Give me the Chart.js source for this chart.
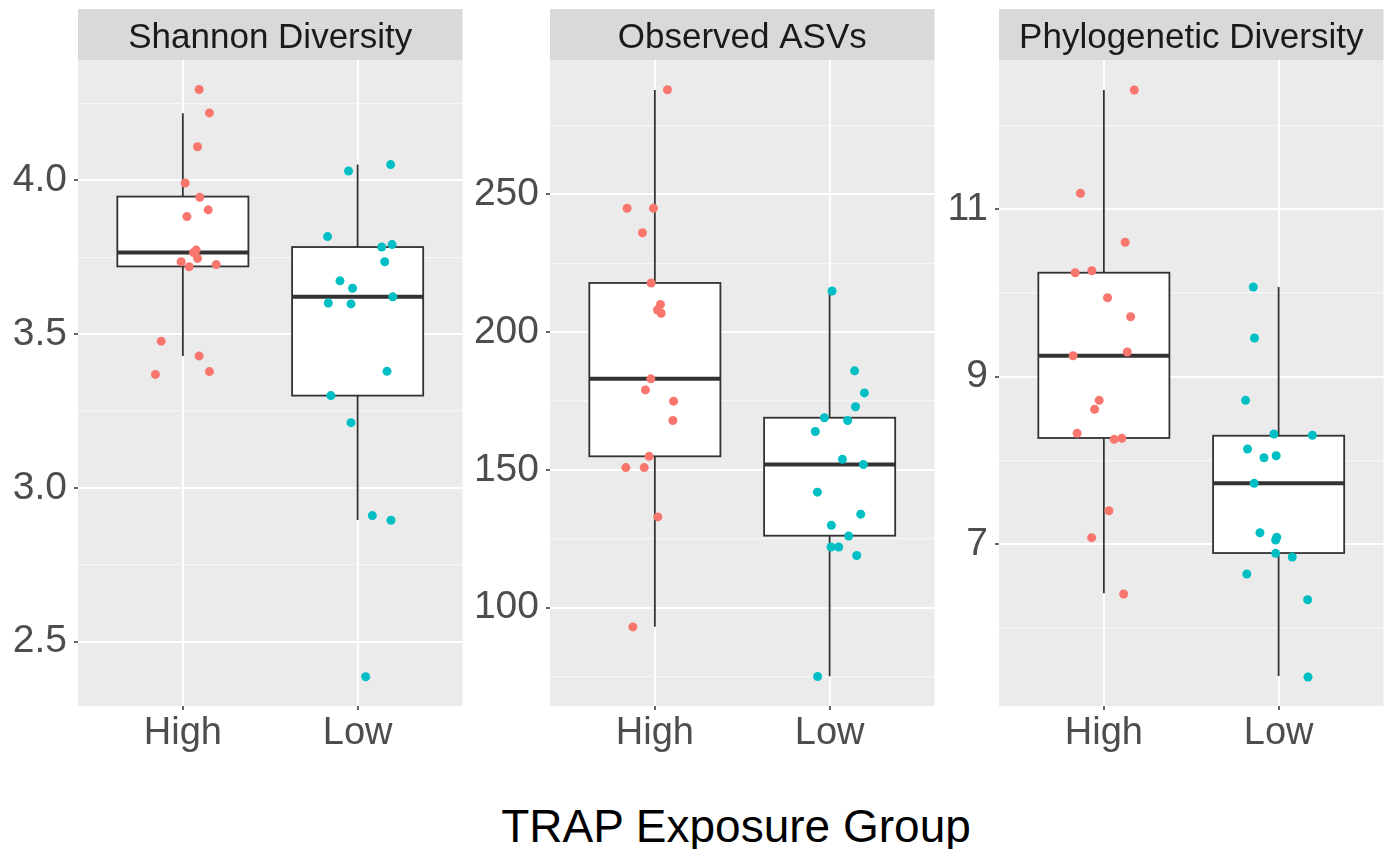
<!DOCTYPE html>
<html>
<head>
<meta charset="utf-8">
<script src="https://cdn.jsdelivr.net/npm/chart.js@4.4.1/dist/chart.umd.min.js"></script>
<style>
  body { margin: 0; background: #fff; width: 1386px; height: 849px; position: relative; overflow: hidden; }
  canvas { position: absolute; top: 0; }
  #xtitle {
    position: absolute; left: 736px; top: 803px; transform: translateX(-50%);
    font: 46px "Liberation Sans", Arial, sans-serif; line-height: 46px; color: #000; white-space: nowrap;
  }
</style>
</head>
<body>
<canvas id="p1" width="467" height="780" style="left:0px"></canvas>
<canvas id="p2" width="477" height="780" style="left:462px"></canvas>
<canvas id="p3" width="454" height="780" style="left:934px"></canvas>
<div id="xtitle">TRAP Exposure Group</div>
<script>
// categories
const groups = ['High', 'Low'];
const groupPos = [1, 2];

// Shannon Diversity
const shannonHighY = [4.295, 4.219, 4.109, 3.991, 3.945, 3.904, 3.882, 3.773, 3.765, 3.746, 3.735, 3.719, 3.726, 3.477, 3.429, 3.369, 3.378];
const shannonHighX = [1.093, 1.152, 1.084, 1.013, 1.097, 1.145, 1.023, 1.076, 1.061, 1.084, 0.990, 1.036, 1.191, 0.876, 1.093, 0.843, 1.152];
const shannonLowY = [4.030, 4.051, 3.817, 3.783, 3.791, 3.735, 3.673, 3.649, 3.621, 3.601, 3.598, 3.379, 3.300, 3.212, 2.910, 2.895, 2.386];
const shannonLowX = [1.948, 2.189, 1.828, 2.138, 2.197, 2.155, 1.899, 1.971, 2.201, 1.832, 1.962, 2.168, 1.847, 1.962, 2.084, 2.191, 2.046];
// [lower whisker, q1, median, q3, upper whisker]
const shannonHighBox = [3.429, 3.720, 3.765, 3.947, 4.218];
const shannonLowBox = [2.896, 3.300, 3.621, 3.783, 4.051];
const shannonTicks = [2.5, 2.75, 3.0, 3.25, 3.5, 3.75, 4.0, 4.25];
const shannonMajor = [2.5, 3.0, 3.5, 4.0];

// Observed ASVs
const asvHighY = [287.9, 244.9, 244.9, 236.0, 217.8, 210.0, 208.0, 206.8, 183.0, 179.0, 174.9, 167.9, 154.9, 150.8, 150.8, 132.9, 93.0];
const asvHighX = [1.072, 0.841, 0.992, 0.929, 0.979, 1.032, 1.015, 1.036, 0.977, 0.946, 1.107, 1.103, 0.967, 0.834, 0.939, 1.017, 0.874];
const asvLowY = [214.9, 185.9, 177.9, 172.9, 168.9, 167.9, 163.9, 153.8, 151.9, 141.9, 133.9, 129.9, 126.0, 122.0, 122.0, 118.9, 75.0];
const asvLowX = [2.014, 2.143, 2.199, 2.148, 1.970, 2.103, 1.918, 2.073, 2.193, 1.930, 2.178, 2.010, 2.109, 2.008, 2.052, 2.155, 1.931];
const asvHighBox = [93.1, 154.9, 183.0, 217.8, 287.8];
const asvLowBox = [75.1, 126.1, 151.9, 168.9, 214.9];
const asvTicks = [75, 100, 125, 150, 175, 200, 225, 250, 275];
const asvMajor = [100, 150, 200, 250];

// Phylogenetic Diversity
const pdHighY = [12.426, 11.191, 10.606, 10.242, 10.266, 9.943, 9.716, 9.250, 9.294, 8.717, 8.610, 8.323, 8.251, 8.263, 7.398, 7.076, 6.402];
const pdHighX = [1.174, 0.866, 1.122, 0.836, 0.931, 1.021, 1.153, 0.824, 1.134, 0.973, 0.947, 0.847, 1.059, 1.103, 1.029, 0.930, 1.113];
const pdLowY = [10.071, 9.462, 8.717, 8.314, 8.299, 8.135, 8.031, 8.055, 7.725, 7.135, 7.080, 7.048, 6.888, 6.844, 6.641, 6.334, 5.410];
const pdLowX = [1.855, 1.862, 1.811, 1.973, 2.193, 1.822, 1.916, 1.986, 1.860, 1.893, 1.989, 1.983, 1.983, 2.078, 1.818, 2.166, 2.168];
const pdHighBox = [6.410, 8.267, 9.250, 10.242, 12.426];
const pdLowBox = [5.422, 6.892, 7.725, 8.294, 10.071];
const pdTicks = [6, 7, 8, 9, 10, 11, 12];
const pdMajor = [7, 9, 11];

const RED = '#F8766D';
const CYAN = '#00BFC4';
const FONT = '"Liberation Sans", Arial, sans-serif';

function makePanel(id, p) {
  // panel background, strip, and boxplots drawn through the chart's scales
  const panelPlugin = {
    id: 'panel_' + id,
    beforeDraw(chart) {
      const { ctx, chartArea: a } = chart;
      ctx.save();
      ctx.fillStyle = '#EBEBEB';
      ctx.fillRect(a.left, a.top, a.right - a.left, a.bottom - a.top);
      ctx.fillStyle = '#D9D9D9';
      ctx.fillRect(a.left, 9, a.right - a.left, a.top - 9);
      ctx.fillStyle = '#1A1A1A';
      ctx.font = '35px ' + FONT;
      ctx.textAlign = 'center';
      ctx.textBaseline = 'alphabetic';
      ctx.fillText(p.title, (a.left + a.right) / 2, 48);
      ctx.restore();
    },
    beforeDatasetsDraw(chart) {
      const { ctx, scales: { x, y } } = chart;
      ctx.save();
      ctx.strokeStyle = '#333333';
      [p.highBox, p.lowBox].forEach((b, i) => {
        const cx = x.getPixelForValue(groupPos[i]);
        const x0 = x.getPixelForValue(groupPos[i] - 0.375);
        const x1 = x.getPixelForValue(groupPos[i] + 0.375);
        const [lo, q1, med, q3, hi] = b.map(v => y.getPixelForValue(v));
        ctx.lineWidth = 1.8;
        ctx.beginPath();
        ctx.moveTo(cx, q3); ctx.lineTo(cx, hi);
        ctx.moveTo(cx, q1); ctx.lineTo(cx, lo);
        ctx.stroke();
        ctx.fillStyle = '#FFFFFF';
        ctx.fillRect(x0, q3, x1 - x0, q1 - q3);
        ctx.strokeRect(x0, q3, x1 - x0, q1 - q3);
        ctx.lineWidth = 4;
        ctx.beginPath();
        ctx.moveTo(x0, med); ctx.lineTo(x1, med);
        ctx.stroke();
      });
      ctx.restore();
    }
  };

  const isMajor = v => p.major.includes(v);

  return new Chart(document.getElementById(id), {
    type: 'scatter',
    data: {
      datasets: [
        { data: p.highX.map((x, i) => ({ x, y: p.highY[i] })), backgroundColor: RED, pointRadius: 4.5, borderWidth: 0 },
        { data: p.lowX.map((x, i) => ({ x, y: p.lowY[i] })), backgroundColor: CYAN, pointRadius: 4.5, borderWidth: 0 }
      ]
    },
    options: {
      responsive: false,
      animation: false,
      layout: { padding: { top: 60, right: 0, left: 0, bottom: 0 } },
      plugins: { legend: { display: false }, tooltip: { enabled: false } },
      scales: {
        x: {
          type: 'linear', min: 0.4, max: 2.6,
          afterBuildTicks: s => { s.ticks = groupPos.map(v => ({ value: v })); },
          afterFit: s => { s.height = 74; },
          border: { display: false },
          grid: { color: '#FFFFFF', lineWidth: 2, tickColor: '#333333', tickLength: 4, tickWidth: 1.5 },
          ticks: { callback: v => groups[v - 1], color: '#4D4D4D', font: { family: FONT, size: 38 }, padding: 1, maxRotation: 0 }
        },
        y: {
          type: 'linear', min: p.min, max: p.max,
          afterBuildTicks: s => { s.ticks = p.ticks.map(v => ({ value: v })); },
          afterFit: s => { s.width = p.axisWidth; },
          border: { display: false },
          grid: {
            color: c => isMajor(c.tick.value) ? '#FFFFFF' : '#F7F7F7',
            lineWidth: c => isMajor(c.tick.value) ? 2 : 1.2,
            tickColor: c => isMajor(c.tick.value) ? '#333333' : 'rgba(0,0,0,0)',
            tickLength: 4, tickWidth: 1.5
          },
          ticks: {
            callback: v => isMajor(v) ? p.fmt(v) : '',
            color: '#4D4D4D', font: { family: FONT, size: 39 }, padding: 7, autoSkip: false
          }
        }
      }
    },
    plugins: [panelPlugin]
  });
}

makePanel('p1', {
  title: 'Shannon Diversity', min: 2.291, max: 4.391, axisWidth: 78,
  ticks: shannonTicks, major: shannonMajor, fmt: v => v.toFixed(1),
  highX: shannonHighX, highY: shannonHighY, lowX: shannonLowX, lowY: shannonLowY,
  highBox: shannonHighBox, lowBox: shannonLowBox
});
makePanel('p2', {
  title: 'Observed ASVs', min: 64.3, max: 298.7, axisWidth: 88,
  ticks: asvTicks, major: asvMajor, fmt: v => String(v),
  highX: asvHighX, highY: asvHighY, lowX: asvLowX, lowY: asvLowY,
  highBox: asvHighBox, lowBox: asvLowBox
});
makePanel('p3', {
  title: 'Phylogenetic Diversity', min: 5.064, max: 12.784, axisWidth: 65,
  ticks: pdTicks, major: pdMajor, fmt: v => String(v),
  highX: pdHighX, highY: pdHighY, lowX: pdLowX, lowY: pdLowY,
  highBox: pdHighBox, lowBox: pdLowBox
});
</script>
</body>
</html>
